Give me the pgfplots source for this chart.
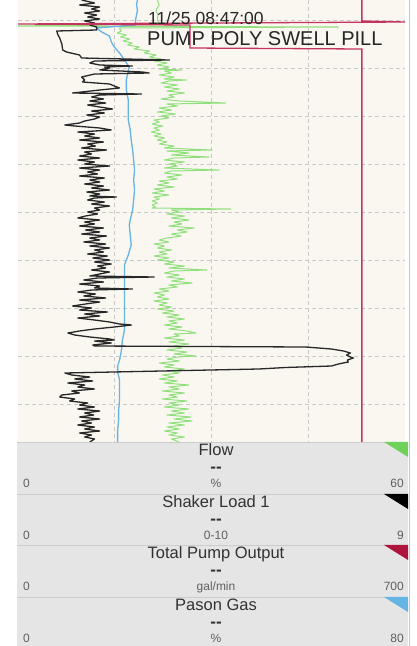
\documentclass[border=0pt]{standalone}
\usepackage{pgfplots}
\pgfplotsset{compat=1.18}
\usepackage{pgfplotstable}
\usepackage{fontspec}
\setmainfont{Liberation Sans}
\definecolor{cream}{RGB}{250,247,241}
\definecolor{panelgray}{RGB}{229,229,229}
\definecolor{flowline}{RGB}{145,224,125}
\definecolor{flowtri}{RGB}{110,210,90}
\definecolor{gasline}{RGB}{100,180,228}
\definecolor{pumpline}{RGB}{196,52,92}
\definecolor{pumptri}{RGB}{175,20,60}
\definecolor{shakerline}{RGB}{40,40,40}
\definecolor{gridc}{RGB}{200,200,200}
\definecolor{titlec}{RGB}{50,50,50}
\definecolor{labc}{RGB}{95,95,95}

% Shaker Load 1 (0-10 scale, axis 0-9); t = time row from top
\pgfplotstableread{
t v
0 1.48
3 1.78
5 1.43
7 1.90
9 1.71
11 1.90
13 1.55
15 1.83
17 1.62
19 1.90
21 1.55
23 1.78
25 1.67
27 1.83
30 1.83
31 0.90
35 0.93
38 0.97
44 1.02
50 1.04
52 1.13
55 1.43
58 1.48
60 3.52
61 1.78
63 1.67
65 1.90
66 2.66
67 2.01
68 2.13
70 1.90
72 2.89
73 3.05
74 1.78
77 1.48
80 1.55
82 1.50
84 2.13
86 2.24
88 2.36
90 1.90
93 1.27
94 2.87
95 1.90
97 1.71
99 1.99
101 1.67
103 2.04
105 1.62
107 1.90
109 2.20
111 1.71
113 2.01
115 1.60
117 1.90
119 1.78
121 1.55
123 1.43
125 1.09
126 1.32
128 1.90
130 2.17
132 1.39
134 1.78
136 1.55
138 1.90
140 1.43
142 1.99
144 1.62
146 1.80
148 1.48
150 2.06
152 1.55
154 1.71
156 1.43
158 1.90
160 1.39
162 1.78
164 1.55
166 2.13
168 1.43
170 1.90
172 1.62
174 1.85
176 1.43
178 2.01
180 1.67
182 1.90
184 1.55
186 1.99
188 1.71
190 2.13
192 1.60
194 1.90
196 1.67
197 2.29
198 1.78
200 1.62
202 2.01
204 1.71
206 2.13
208 1.78
210 1.90
212 1.62
214 1.85
216 1.57
218 1.39
220 1.90
222 1.55
224 1.78
226 1.43
228 1.99
230 1.57
232 1.90
234 1.48
236 2.06
238 1.67
240 1.90
242 1.53
244 2.04
246 1.67
248 2.13
250 1.78
252 1.99
254 1.62
256 2.08
258 1.74
260 2.13
262 1.78
264 2.17
266 1.85
268 2.04
270 1.71
272 2.13
274 1.90
276 1.67
277 3.17
278 1.85
280 1.53
282 1.99
284 1.43
286 1.90
288 1.78
289 2.66
290 1.71
292 1.39
294 1.80
296 1.53
298 2.04
300 1.43
302 1.90
304 1.57
306 1.27
308 1.71
310 1.43
312 2.08
314 1.55
316 1.90
318 1.39
320 1.78
322 2.13
324 2.36
325 2.64
327 2.24
329 1.78
331 1.43
333 1.16
335 1.32
337 1.67
339 2.13
340 2.24
341 1.78
343 2.17
345 1.74
346 1.78
347 6.69
349 7.29
351 7.57
353 7.73
355 7.64
357 7.73
358 7.80
360 7.66
362 7.68
364 7.45
366 7.29
367.5 6.22
369 5.60
373 1.09
375 1.25
377 1.67
379 1.32
381 1.74
383 1.16
385 1.55
387 1.39
389 1.78
391 1.25
393 1.43
395 1.02
397 0.97
399 1.32
401 1.20
403 1.62
405 1.43
407 1.78
409 1.39
411 1.90
413 1.55
415 1.76
417 1.43
419 1.90
421 1.48
423 1.71
425 1.39
427 1.78
429 1.55
431 1.90
433 1.43
435 1.71
437 1.55
439 1.78
442 1.67
}\shaker

% Flow (%, axis 0-60)
\pgfplotstableread{
t v
0 21.6
5 21.9
10 21.4
15 21.7
20 21.6
24 21.9
26 0
27 49.7
28 15.7
31 16.0
33 15.4
35 16.8
37 15.9
39 17.3
41 16.3
43 17.7
45 17.0
47 18.8
49 18.0
51 20.4
53 19.6
55 21.4
57 20.4
59 22.2
61 21.1
63 23.1
65 21.6
67 23.4
69 21.9
70 25.4
71 22.7
73 23.8
75 21.9
77 24.2
79 22.7
80 26.1
81 23.4
83 22.2
85 24.7
87 22.7
89 25.0
91 23.1
93 25.8
95 23.4
97 24.2
99 22.2
101 25.0
103 32.2
104 23.1
106 24.7
108 21.9
110 23.8
112 21.6
114 24.4
116 22.2
118 23.4
120 21.1
122 21.9
124 20.8
126 22.4
128 21.1
130 21.9
132 20.7
134 22.2
136 21.1
138 22.7
140 21.6
142 23.1
144 21.9
146 24.2
148 22.7
150 30.1
151 23.1
153 26.5
155 23.8
157 29.6
158 24.2
160 22.7
162 25.8
164 23.4
166 24.7
168 22.7
170 31.2
171 23.8
173 22.7
175 25.4
177 23.1
179 24.7
181 21.9
183 23.4
185 21.6
187 24.2
189 21.1
191 22.7
193 20.8
195 23.4
197 21.1
199 21.9
201 20.8
203 21.6
205 20.8
207 21.3
208 20.8
209 33.0
210 23.8
212 25.0
214 23.1
216 25.8
218 23.8
220 26.5
222 24.2
224 25.4
226 23.4
228 27.3
230 24.7
232 26.2
234 23.8
236 25.3
238 23.1
240 21.9
242 23.4
244 21.1
246 22.7
248 21.6
250 23.8
252 21.9
254 23.1
256 21.1
258 23.4
260 21.6
262 24.2
264 22.7
266 25.8
268 23.4
270 29.3
271 24.2
273 22.7
275 25.0
277 23.1
279 25.8
281 23.8
283 27.0
285 23.4
287 24.7
289 21.9
291 23.4
293 21.1
295 22.7
297 21.6
299 23.4
301 21.1
303 23.1
305 21.9
307 23.8
309 21.6
311 24.2
313 22.4
315 25.0
317 23.1
319 25.8
321 23.4
323 24.7
325 22.7
327 25.4
329 23.4
331 26.2
333 27.6
334 24.2
336 25.0
338 22.7
340 25.8
342 23.4
344 26.5
346 24.2
348 25.4
350 23.1
352 26.2
354 24.2
356 27.6
357 24.7
359 23.1
361 25.0
363 21.9
365 24.2
367 22.7
369 25.8
371 23.4
373 25.0
375 22.4
377 24.2
379 21.9
381 24.7
383 22.7
385 26.5
387 23.4
389 25.0
391 22.4
393 25.8
395 23.4
397 24.7
399 22.4
401 26.2
403 23.4
405 25.0
407 22.7
409 26.5
411 23.8
413 25.8
415 23.1
417 26.8
419 24.2
421 27.0
423 23.4
425 25.8
427 23.1
429 25.0
431 22.7
433 24.7
435 23.4
437 25.8
439 23.8
442 25.0
}\flow

% Pason Gas (%, axis 0-80)
\pgfplotstableread{
t v
0 24.7
5 24.5
10 24.7
15 24.5
20 24.3
25 24.3
28 16.2
32 17.3
36 18.9
42 19.3
47 19.9
53 21.0
60 22.0
67 23.0
75 22.6
80 22.4
90 22.4
100 22.8
110 22.8
120 22.8
130 23.2
140 23.4
150 23.7
160 23.9
170 24.1
180 23.9
190 24.1
200 23.9
210 23.7
220 23.2
225 23.0
235 23.2
245 23.4
255 22.8
265 22.0
275 22.0
290 22.0
310 22.0
320 22.0
330 22.0
340 21.6
350 21.4
360 21.0
366 20.6
372 20.6
380 21.0
390 21.0
400 21.0
410 20.8
420 20.8
430 20.6
442 20.6
}\gas

% Total Pump Output (gal/min, axis 0-700)
\pgfplotstableread{
t v
0 622
21 622
22 700
24 0
25 311
48 311
49 622
442 622
}\pump

\newcommand\panel[6]{%
  \pgfmathsetmacro\yt{646-#1}\pgfmathsetmacro\yb{646-#2}%
  \fill[panelgray] (17,\yb) rectangle (408,\yt);
  \draw[gray!40, line width=0.8pt] (17,\yt) -- (408,\yt);
  \fill[#6] (384,\yt) -- (408,\yt) -- (408,\yt-15) -- cycle;
  \node[anchor=base, inner sep=0pt, text=titlec, font=\fontsize{16.5}{18}\selectfont] at (216,\yt-14) {#3};
  \node[anchor=base, inner sep=0pt, text=titlec, font=\bfseries\fontsize{17}{18}\selectfont] at (216,\yt-31) {-{}-};
  \node[anchor=base west, inner sep=0pt, text=labc, font=\fontsize{12}{14}\selectfont] at (23,\yt-46) {0};
  \node[anchor=base, inner sep=0pt, text=labc, font=\fontsize{12}{14}\selectfont] at (216,\yt-46) {#4};
  \node[anchor=base east, inner sep=0pt, text=labc, font=\fontsize{12}{14}\selectfont] at (404,\yt-46) {#5};
}

\begin{document}
\begin{tikzpicture}[x=1pt,y=1pt]
\useasboundingbox (0,0) rectangle (417,646);
\fill[white] (0,0) rectangle (417,646);
\begin{axis}[
  at={(18pt,204pt)}, anchor=south west,
  scale only axis, width=387pt, height=442pt,
  xmin=0, xmax=1, ymin=0, ymax=442, y dir=reverse,
  axis background/.style={fill=cream},
  axis line style={draw=none},
  xtick={0.25,0.5,0.75}, ytick={20,68,116,164,212,260,308,356,404},
  xticklabels={}, yticklabels={},
  major tick length=0pt,
  grid=major,
  major grid style={gridc, dash pattern=on 4pt off 3pt, line width=0.7pt},
]
\addplot[flowline, line width=1pt, line join=round] table[x expr=\thisrow{v}/60, y=t] {\flow};
\addplot[gasline, line width=1.3pt] table[x expr=\thisrow{v}/80, y=t] {\gas};
\addplot[shakerline, line width=1.3pt, line join=round] table[x expr=\thisrow{v}/9, y=t] {\shaker};
\addplot[pumpline, line width=1.3pt] table[x expr=\thisrow{v}/700, y=t] {\pump};
\end{axis}
\node[anchor=base west, inner sep=0pt, text=black!85, font=\fontsize{17.5}{20}\selectfont] at (148,621) {11/25 08:47:00};
\node[anchor=base west, inner sep=0pt, text=black!85, font=\fontsize{20}{22}\selectfont] at (147,600) {PUMP POLY SWELL PILL};
\panel{442}{494}{Flow}{\%}{60}{flowtri}
\panel{494}{545}{Shaker Load 1}{0-10}{9}{black}
\panel{545}{597}{Total Pump Output}{gal/min}{700}{pumptri}
\panel{597}{646}{Pason Gas}{\%}{80}{gasline}
\draw[gray!45, line width=1.5pt] (409.5,0) -- (409.5,646);
\end{tikzpicture}
\end{document}
